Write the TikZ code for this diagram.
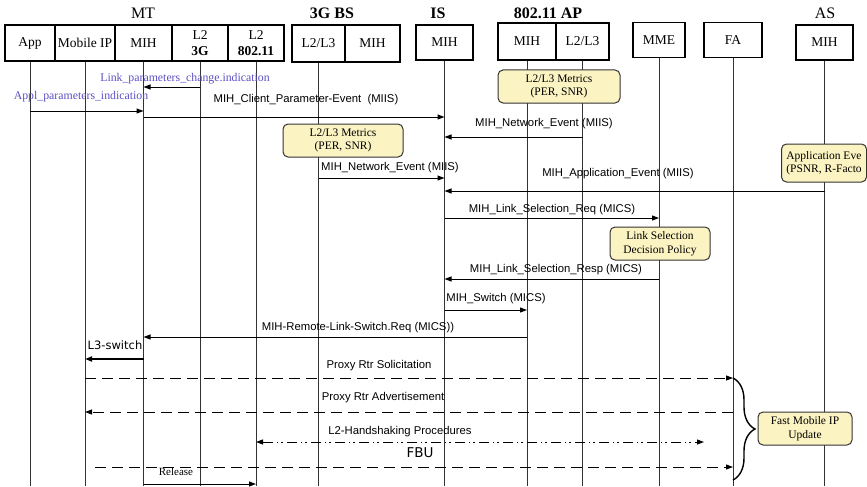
\documentclass[tikz,border=0pt]{standalone}
\usepackage{fontspec}
\setmainfont{Liberation Serif}
\setsansfont{Liberation Sans}
\newfontfamily\dejavu{DejaVu Sans}
\usetikzlibrary{arrows.meta, decorations.pathreplacing}
\definecolor{cline}{HTML}{333333}
\definecolor{cnote}{HTML}{FBF3C1}
\definecolor{cblue}{HTML}{5B4FC4}
\tikzset{
  every picture/.style={line width=1pt},
  hbox/.style={draw, line width=1.1pt, inner sep=1pt, align=center, font=\fontsize{13.5}{16}\selectfont},
  life/.style={draw=cline, line width=1pt},
  msg/.style={-{Triangle[length=7pt, width=5pt]}, line width=1pt},
  twoway/.style={{Triangle[length=7pt, width=5pt]}-{Triangle[length=7pt, width=5pt]}, line width=1pt},
  dsh/.style={dash pattern=on 11pt off 6pt},
  ddot/.style={dash pattern=on 10pt off 4pt on 1.5pt off 3pt on 1.5pt off 4pt},
  lbl/.style={font=\sffamily\fontsize{11.3}{13}\selectfont, inner sep=0pt},
  ind/.style={font=\fontsize{11.8}{13}\selectfont, text=cblue, inner sep=0pt},
  note/.style={draw=cline, fill=cnote, rounded corners=5pt, align=center, inner sep=1pt, font=\fontsize{11.5}{13.5}\selectfont},
  title/.style={font=\fontsize{16}{18}\selectfont},
}
\begin{document}
\begin{tikzpicture}[x=1pt, y=-1pt]
  \useasboundingbox (0,0) rectangle (867,487);

  % group titles
  \node[title] (tmt) at (143,13) {MT};
  \node[title] (tbs) at (332,13) {\textbf{3G BS}};
  \node[title] (tis) at (438,13) {\textbf{IS}};
  \node[title] (tap) at (548,13) {\textbf{802.11 AP}};
  \node[title] (tas) at (825,13) {AS};

  % entities
  \node[hbox, minimum width=50, minimum height=36] (app) at (30,43)    {App};
  \node[hbox, minimum width=60, minimum height=36] (mip) at (85,43)    {Mobile IP};
  \node[hbox, minimum width=57, minimum height=36] (mih) at (143.5,43) {MIH};
  \node[hbox, minimum width=56, minimum height=36] (lg)  at (200,43)   {L2\\\textbf{3G}};
  \node[hbox, minimum width=56, minimum height=36] (lw)  at (256,43)   {L2\\\textbf{802.11}};
  \node[hbox, minimum width=53, minimum height=37] (bsl) at (318.5,43.5) {L2/L3};
  \node[hbox, minimum width=55, minimum height=37] (bsm) at (372.5,43.5) {MIH};
  \node[hbox, minimum width=57, minimum height=35] (is)  at (444.5,42.5) {MIH};
  \node[hbox, minimum width=58, minimum height=37] (apm) at (527,41.5) {MIH};
  \node[hbox, minimum width=53, minimum height=37] (apl) at (582.5,41.5) {L2/L3};
  \node[hbox, minimum width=52, minimum height=35] (mme) at (659,40)   {MME};
  \node[hbox, minimum width=58, minimum height=35] (fa)  at (733,40)   {FA};
  \node[hbox, minimum width=57, minimum height=35] (as)  at (824.5,42.5) {MIH};

  % lifelines
  \coordinate (bot) at (0,486);
  \foreach \l in {app, mip, mih, lg, lw, bsl, is, apm, apl, mme, fa, as}
    \draw[life] (\l.south) -- (\l.south |- bot);

  % message rows
  \foreach \n/\y in {1/87, 2/111, 3/117, 4/137, 5/178, 6/191, 7/218, 8/279, 9/310,
                     10/337, 11/359, 12/378, 13/412, 14/442, 15/467, 16/484}
    \coordinate (r\n) at (0,\y);
  \coordinate (hsend) at (704,442);
  \coordinate (fbus) at (95,467);
  \coordinate (brb) at (733,480);

  % notes
  \node[note, minimum width=122, minimum height=33] (nap) at (559,86.5) {L2/L3 Metrics\\(PER, SNR)};
  \node[note, minimum width=120, minimum height=33] (nbs) at (343,140.5) {L2/L3 Metrics\\(PER, SNR)};
  \node[note, minimum width=85, minimum height=38, align=left, inner xsep=1pt, anchor=west] (nae) at (781,163) {Application Eve\\(PSNR, R-Facto};
  \node[note, minimum width=100, minimum height=33] (nls) at (660,243.5) {Link Selection\\Decision Policy};
  \node[note, minimum width=94, minimum height=33] (nfm) at (805,428.5) {Fast Mobile IP\\Update};

  % messages
  \draw[msg] (lg |- r1) -- (mih |- r1);
  \draw[msg] (app |- r2) -- (mih |- r2);
  \draw[msg] (mih |- r3) -- (is |- r3);
  \draw[msg] (apl |- r4) -- (is |- r4);
  \draw[msg] (bsl |- r5) -- (is |- r5);
  \draw[msg] (as |- r6) -- (is |- r6);
  \draw[msg] (is |- r7) -- (mme |- r7);
  \draw[msg] (mme |- r8) -- (is |- r8);
  \draw[msg] (is |- r9) -- (apm |- r9);
  \draw[msg] (apm |- r10) -- (mih |- r10);
  \draw[msg, line width=2.2pt] (mih |- r11) -- (mip |- r11);
  \draw[msg, dsh] (mip |- r12) -- (fa |- r12);
  \draw[msg, dsh] (fa |- r13) -- (mip |- r13);
  \draw[twoway, ddot] (lw |- r14) -- (hsend);
  \draw[msg, dsh] (fbus) -- (fa |- r15);
  \draw[msg] (mih |- r16) -- (lw |- r16);

  % labels
  \node[ind] (tlpc) at (185,79)  {Link\_parameters\_change.indication};
  \node[ind] (tapi) at (81,97)   {Appl\_parameters\_indication};
  \node[lbl] (tcpe) at (306,100) {MIH\_Client\_Parameter-Event\ \ (MIIS)};
  \node[lbl] (tne1) at (544,124) {MIH\_Network\_Event (MIIS)};
  \node[lbl] (tne2) at (390,168) {MIH\_Network\_Event (MIIS)};
  \node[lbl] (tape) at (618,174) {MIH\_Application\_Event (MIIS)};
  \node[lbl] (tlsq) at (552,210) {MIH\_Link\_Selection\_Req (MICS)};
  \node[lbl] (tlsr) at (556,270) {MIH\_Link\_Selection\_Resp (MICS)};
  \node[lbl] (tsw)  at (496,299) {MIH\_Switch (MICS)};
  \node[lbl] (trls) at (358,328) {MIH-Remote-Link-Switch.Req (MICS))};
  \node[lbl, font=\dejavu\fontsize{11.5}{13}\selectfont] (tl3) at (115,345) {L3-switch};
  \node[lbl] (tprs) at (379,366) {Proxy Rtr Solicitation};
  \node[lbl] (tpra) at (383,398) {Proxy Rtr Advertisement};
  \node[lbl] (thsp) at (400,432) {L2-Handshaking Procedures};
  \node[lbl, font=\dejavu\fontsize{13.5}{15}\selectfont] (tfbu) at (420,453) {FBU};
  \node[inner sep=0pt, font=\fontsize{11}{12}\selectfont] (trel) at (176,472) {Release};

  % brace
  \draw[decorate, decoration={brace, amplitude=22pt}, line width=1.4pt] (fa |- r12) -- (brb);
\end{tikzpicture}
\end{document}
